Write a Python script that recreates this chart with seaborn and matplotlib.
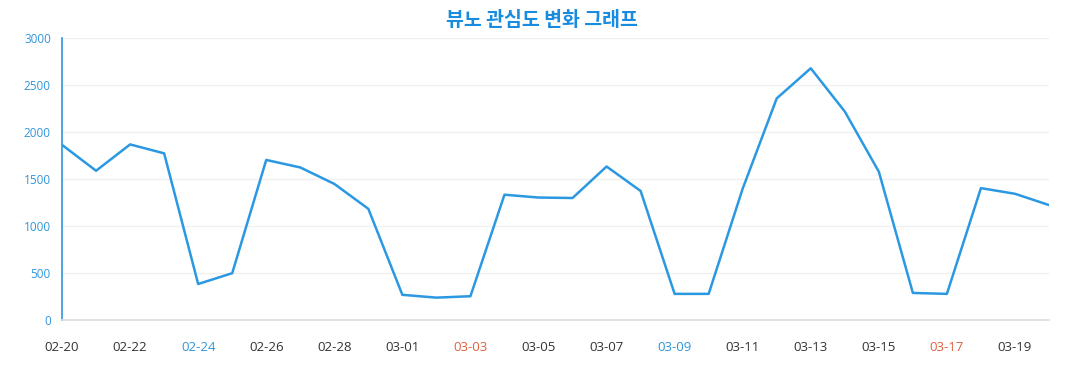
import numpy as np
import pandas as pd
import seaborn as sns
import matplotlib.pyplot as plt

# ==========================================
# 1. 데이터
# ==========================================
dates = ['02-20', '02-21', '02-22', '02-23', '02-24', '02-25', '02-26', '02-27', '02-28', '02-29',
         '03-01', '03-02', '03-03', '03-04', '03-05', '03-06', '03-07', '03-08', '03-09', '03-10',
         '03-11', '03-12', '03-13', '03-14', '03-15', '03-16', '03-17', '03-18', '03-19', '03-20']
values = [1865, 1590, 1870, 1775, 385, 500, 1705, 1625, 1450, 1185,
          270, 240, 255, 1335, 1305, 1300, 1635, 1375, 280, 280,
          1400, 2360, 2680, 2220, 1580, 290, 280, 1405, 1345, 1225]
y_ticks = [0, 500, 1000, 1500, 2000, 2500, 3000]
blue_days = ['02-24', '03-09']
red_days = ['03-03', '03-17']

df = pd.DataFrame({'day': np.arange(len(dates)), 'date': dates, 'value': values})

# ==========================================
# 2. 스타일
# ==========================================
sns.set_theme(style="white")
plt.rcParams['font.family'] = ['Open Sans', 'Noto Sans CJK KR', 'DejaVu Sans']

line_color = "#2b98e2"
axis_blue = "#2f96dc"
red_color = "#e0603e"
text_color = "#333333"

fig, ax = plt.subplots(figsize=(10.77, 3.9), dpi=100)
plt.subplots_adjust(left=0.0576, right=0.974, top=0.902, bottom=0.179)

sns.lineplot(data=df, x='day', y='value', ax=ax, color=line_color, linewidth=1.8)

ax.set_xlim(0, len(dates) - 1)
ax.set_ylim(0, 3000)
ax.set_yticks(y_ticks)
ax.set_yticklabels([str(v) for v in y_ticks], color=axis_blue, fontsize=8.5)

# 매일 눈금, 이틀마다 라벨
ax.set_xticks(df['day'])
ax.set_xticklabels([d if i % 2 == 0 else '' for i, d in enumerate(dates)], fontsize=9.5)
for lbl, d in zip(ax.get_xticklabels(), dates):
    if d in blue_days:
        lbl.set_color(axis_blue)
    elif d in red_days:
        lbl.set_color(red_color)
    else:
        lbl.set_color(text_color)

ax.set_xlabel('')
ax.set_ylabel('')
ax.yaxis.grid(True, color='#f0f0f0', linewidth=1)
ax.xaxis.grid(False)

for s in ['top', 'right']:
    ax.spines[s].set_visible(False)
ax.spines['left'].set_color(axis_blue)
ax.spines['left'].set_linewidth(1.2)
ax.spines['bottom'].set_color('#dddddd')
ax.spines['bottom'].set_linewidth(1.2)

ax.tick_params(axis='y', length=4, width=1, color=axis_blue, pad=4)
ax.tick_params(axis='x', length=5, width=1, color='#dddddd', pad=10)

# 제목은 그림 전체 기준 가운데
fig.suptitle('뷰노 관심도 변화 그래프', x=0.503, y=0.948, color="#1a8ce0", fontsize=14,
             fontweight='bold', family=['Noto Sans CJK KR', 'DejaVu Sans'], va='center')

plt.savefig('out.png', dpi=100)
plt.close()
